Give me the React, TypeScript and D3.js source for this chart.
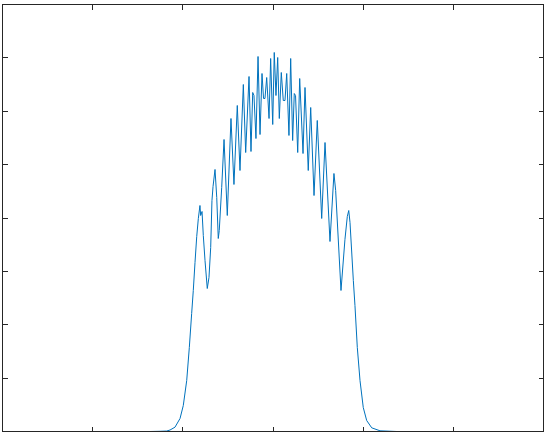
import React from "react";
import * as d3 from "d3";

const xValues = [
  -3, -1.364, -1.253, -1.179, -1.142, -1.087, -1.031, -0.995, -0.957, -0.928, -0.902,
  -0.884, -0.865, -0.846, -0.828, -0.81, -0.802, -0.787, -0.773, -0.754, -0.729,
  -0.71, -0.691, -0.677, -0.665, -0.643, -0.624, -0.607, -0.596, -0.569, -0.543,
  -0.507, -0.466, -0.433, -0.396, -0.366, -0.329, -0.303, -0.266, -0.244, -0.225,
  -0.211, -0.189, -0.166, -0.144, -0.122, -0.105, -0.089, -0.07, -0.044, -0.026,
  -0.003, 0.014, 0.033, 0.052, 0.07, 0.092, 0.114, 0.133, 0.152, 0.177,
  0.196, 0.218, 0.236, 0.25, 0.274, 0.296, 0.333, 0.355, 0.391, 0.418,
  0.455, 0.491, 0.54, 0.577, 0.632, 0.676, 0.695, 0.754, 0.798, 0.824,
  0.84, 0.854, 0.891, 0.909, 0.935, 0.965, 1.001, 1.039, 1.095, 1.187,
  1.372, 3,
];

const yValues = [
  0, 0, 0.004, 0.009, 0.028, 0.081, 0.244, 0.487, 0.955, 1.574, 2.211,
  2.642, 3.166, 3.653, 3.991, 4.234, 4.047, 4.122, 3.672, 3.204, 2.679,
  2.885, 3.447, 4.328, 4.59, 4.909, 4.384, 3.616, 3.766, 4.571, 5.471,
  4.047, 5.864, 4.628, 6.108, 4.89, 6.501, 5.227, 6.651, 5.246, 6.351,
  6.295, 5.489, 7.026, 5.564, 6.707, 6.239, 6.239, 6.632, 5.864, 6.988,
  5.752, 7.101, 6.295, 7.007, 5.864, 6.726, 6.201, 6.201, 6.707, 5.546,
  6.988, 5.452, 6.332, 6.295, 5.227, 6.613, 5.208, 6.445, 4.89, 6.07,
  4.421, 5.827, 3.991, 5.414, 3.56, 4.834, 4.515, 2.642, 3.597, 4.028,
  4.14, 3.916, 2.829, 2.361, 1.574, 0.955, 0.45, 0.206, 0.069, 0.013,
  0, 0,
];

const xTicks = [-2, -1, 0, 1, 2];
const yTicks = [1, 2, 3, 4, 5, 6, 7];

const W = 548;
const H = 436;

export default function App() {
  const x = d3.scaleLinear().domain([-3, 3]).range([2.5, 543.5]);
  const y = d3.scaleLinear().domain([0, 8]).range([431.5, 4.5]);
  const pts: [number, number][] = xValues.map((v, i) => [v, yValues[i]]);
  const line = d3
    .line<[number, number]>()
    .x((d) => x(d[0]))
    .y((d) => y(d[1]));
  const axisColor = "#262626";
  const tl = 5;
  return (
    <svg
      width={W}
      height={H}
      style={{ position: "absolute", left: 0, top: 0, background: "#fff" }}
    >
      <rect x={0} y={0} width={W} height={H} fill="#fff" />
      <path
        d={line(pts) || ""}
        fill="none"
        stroke="#0072BD"
        strokeWidth={1}
        strokeLinejoin="round"
      />
      <g stroke={axisColor} strokeWidth={1} shapeRendering="crispEdges">
        {xTicks.map((t) => (
          <g key={"x" + t}>
            <line x1={x(t)} x2={x(t)} y1={y(0)} y2={y(0) - tl} />
            <line x1={x(t)} x2={x(t)} y1={y(8)} y2={y(8) + tl} />
          </g>
        ))}
        {yTicks.map((t) => (
          <g key={"y" + t}>
            <line x1={x(-3)} x2={x(-3) + tl} y1={y(t)} y2={y(t)} />
            <line x1={x(3)} x2={x(3) - tl} y1={y(t)} y2={y(t)} />
          </g>
        ))}
        <rect
          x={x(-3)}
          y={y(8)}
          width={x(3) - x(-3)}
          height={y(0) - y(8)}
          fill="none"
        />
      </g>
    </svg>
  );
}
